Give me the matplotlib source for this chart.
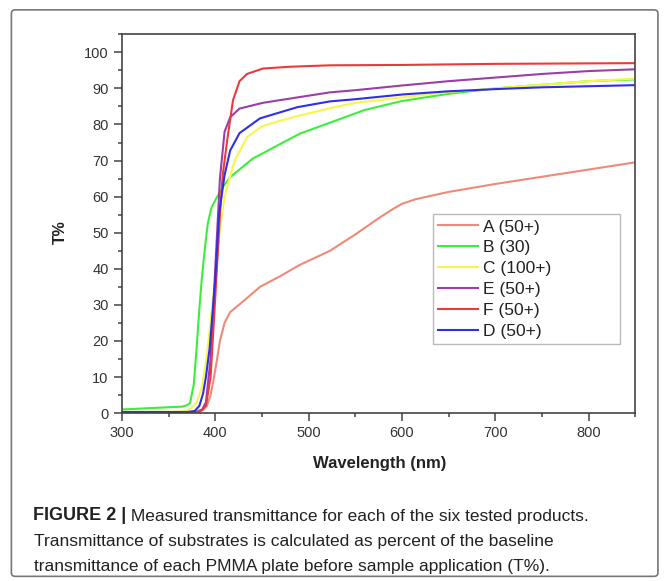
import matplotlib
matplotlib.use("Agg")
import matplotlib.pyplot as plt
from matplotlib.patches import FancyBboxPatch
from matplotlib.ticker import MultipleLocator

plt.rcParams["font.family"] = ["Liberation Sans", "DejaVu Sans"]

# Transmittance curves (wavelength nm, T%)
wl_A = [300, 340, 380, 385, 391, 395, 398, 402, 405, 410, 416, 430, 448, 470, 490,
        523, 550, 575, 590, 600, 615, 650, 700, 750, 800, 850]
t_A = [0.2, 0.2, 0.3, 0.6, 2, 5, 9, 15, 20, 25, 28, 31, 35, 38, 41,
       45, 49.5, 54, 56.5, 58, 59.3, 61.3, 63.5, 65.5, 67.5, 69.5]

wl_B = [300, 340, 365, 370, 373, 377, 380, 383, 385.5, 389, 392, 396, 400, 408,
        416, 440, 469, 491, 523, 560, 600, 650, 700, 750, 800, 850]
t_B = [1.0, 1.5, 1.8, 2.2, 2.8, 8, 18, 29, 37, 46, 52.6, 57, 59, 62.6,
       65.4, 70.5, 74.5, 77.5, 80.5, 84, 86.5, 88.5, 90, 91, 92, 92.5]

wl_C = [300, 360, 370, 375, 380, 385.5, 390, 394, 400, 405, 410, 413, 421, 434,
        450, 469, 491, 523, 550, 600, 650, 700, 750, 800, 850]
t_C = [0.3, 0.4, 0.8, 1.5, 3, 7, 14, 23, 37, 51, 60, 63, 70, 76.5,
       79.5, 81, 82.5, 84.5, 86, 87.5, 89, 90, 91, 92, 92.7]

wl_E = [300, 370, 380, 386, 390, 395, 400, 405, 410, 416, 426, 451, 488, 523,
        550, 600, 650, 700, 750, 800, 850]
t_E = [0.2, 0.2, 0.4, 1, 3, 15, 40, 65, 78, 82, 84.4, 86, 87.5, 88.9,
       89.5, 90.8, 92, 93, 94, 94.8, 95.3]

wl_F = [300, 370, 382, 387, 390, 395, 400, 405, 408, 413, 419, 426, 434, 451,
        480, 523, 600, 700, 850]
t_F = [0.1, 0.1, 0.3, 1, 2, 10, 32, 55, 66, 76, 86.7, 92, 94, 95.5,
       96, 96.4, 96.5, 96.8, 97]

wl_D = [300, 370, 378, 383, 387, 390, 394, 400, 404, 410, 416, 426, 448, 488,
        523, 550, 600, 650, 676, 700, 750, 800, 850]
t_D = [0.3, 0.3, 0.6, 2, 5.5, 10, 18, 37, 55, 66, 72.8, 77.6, 81.7, 84.8,
       86.4, 87, 88.3, 89.2, 89.5, 89.8, 90.3, 90.6, 90.9]

series = [
    ("A (50+)", wl_A, t_A, "#f08a78"),
    ("B (30)", wl_B, t_B, "#3ded3d"),
    ("C (100+)", wl_C, t_C, "#f7f74a"),
    ("E (50+)", wl_E, t_E, "#9b3fa8"),
    ("F (50+)", wl_F, t_F, "#ec3a3a"),
    ("D (50+)", wl_D, t_D, "#2f2fe6"),
]

fig = plt.figure(figsize=(6.7, 5.81), dpi=100)

# outer frame around chart + caption
frame = FancyBboxPatch((0.017, 0.008), 0.965, 0.975, boxstyle="round,pad=0,rounding_size=0.006",
                       transform=fig.transFigure, facecolor="none", edgecolor="#777777",
                       linewidth=1.2)
fig.patches.append(frame)

ax = fig.add_axes([0.182, 0.289, 0.766, 0.652])
for label, wl, t, color in series:
    ax.plot(wl, t, color=color, lw=1.5, label=label)

ax.set_xlim(300, 850)
ax.set_ylim(0, 105)
ax.xaxis.set_major_locator(MultipleLocator(100))
ax.xaxis.set_minor_locator(MultipleLocator(50))
ax.yaxis.set_major_locator(MultipleLocator(10))
ax.yaxis.set_minor_locator(MultipleLocator(5))
ax.tick_params(which="both", direction="out", top=False, right=False,
               color="#444444", labelcolor="#333333", labelsize=10.5, width=1.1)
ax.tick_params(which="major", length=6)
ax.tick_params(which="minor", length=3)
for s in ax.spines.values():
    s.set_color("#444444")
    s.set_linewidth(1.2)

ax.set_xlabel("Wavelength (nm)", fontsize=12, fontweight="bold", color="#222222")
ax.xaxis.set_label_coords(0.502, -0.113)
ax.set_ylabel("T%", fontsize=11.5, fontweight="bold", color="#222222")
ax.yaxis.set_label_coords(-0.105, 0.478)

leg = ax.legend(loc="lower left", bbox_to_anchor=(0.606, 0.182, 0.365, 0.354),
                mode="expand", frameon=True, fancybox=False, fontsize=12.5,
                handlelength=2.3, handletextpad=0.3, labelspacing=0.33,
                borderpad=0.3, borderaxespad=0)
leg.get_frame().set_edgecolor("#aaaaaa")
leg.get_frame().set_linewidth(1.0)
for txt in leg.get_texts():
    txt.set_color("#222222")

cap_size = 12.5
t1 = fig.text(0.049, 0.098, "FIGURE 2 |", fontsize=13, fontweight="bold",
              color="#222222", va="bottom")
plt.annotate(" Measured transmittance for each of the six tested products.",
             xy=(1, 0), xycoords=t1, va="bottom", fontsize=cap_size,
             color="#222222", annotation_clip=False)
fig.text(0.051, 0.055, "Transmittance of substrates is calculated as percent of the baseline",
         fontsize=cap_size, color="#222222", va="bottom")
fig.text(0.051, 0.012, "transmittance of each PMMA plate before sample application (T%).",
         fontsize=cap_size, color="#222222", va="bottom")

fig.savefig("out.png", dpi=100)
